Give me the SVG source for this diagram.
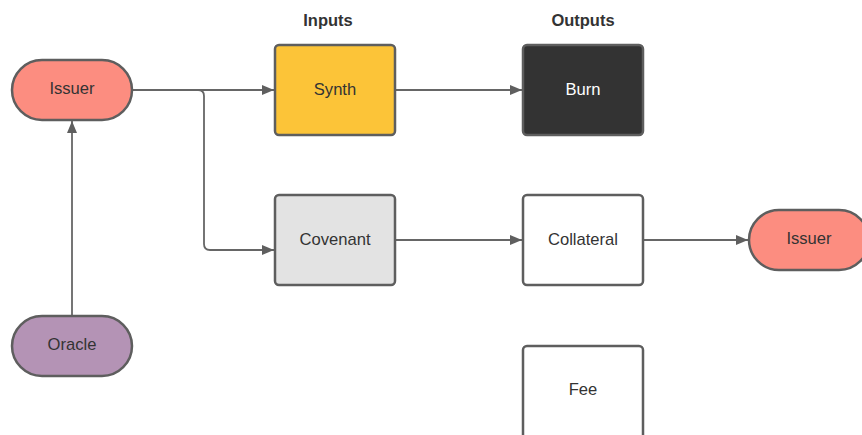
<svg xmlns="http://www.w3.org/2000/svg" width="862" height="435" viewBox="0 0 862 435">
  <defs>
    <marker id="arrow" viewBox="0 0 12 10" refX="12" refY="5" markerWidth="12" markerHeight="10" markerUnits="userSpaceOnUse" orient="auto">
      <path d="M0,0 L12,5 L0,10 z" fill="#5f5f5f"/>
    </marker>
  </defs>
  <style>
    .node { stroke: #5e5e5e; stroke-width: 2.5; }
    .label { font-family: "Liberation Sans", Arial, sans-serif; font-size: 16.6px; fill: #333333; text-anchor: middle; dominant-baseline: central; }
    .head { font-family: "Liberation Sans", Arial, sans-serif; font-size: 16.5px; font-weight: bold; fill: #333333; text-anchor: middle; dominant-baseline: central; }
    .edge { fill: none; stroke: #666666; stroke-width: 1.8; }
  </style>
  <rect width="862" height="435" fill="#ffffff"/>

  <text class="head" x="328" y="20">Inputs</text>
  <text class="head" x="583" y="20">Outputs</text>

  <g id="connectors">
    <path class="edge" d="M132,90 H274" marker-end="url(#arrow)"/>
    <path class="edge" d="M198,90 Q204,90 204,96 V244 Q204,250 210,250 H274" marker-end="url(#arrow)"/>
    <path class="edge" d="M72,316 V121" marker-end="url(#arrow)"/>
    <path class="edge" d="M396,90 H522" marker-end="url(#arrow)"/>
    <path class="edge" d="M396,240 H522" marker-end="url(#arrow)"/>
    <path class="edge" d="M644,240 H748" marker-end="url(#arrow)"/>
  </g>

  <g id="issuer-left">
    <rect class="node" x="12" y="60" width="120" height="60" rx="30" fill="#fc8d80"/>
    <text class="label" x="72" y="88.5">Issuer</text>
  </g>
  <g id="oracle">
    <rect class="node" x="12" y="316" width="120" height="60" rx="30" fill="#b493b5"/>
    <text class="label" x="72" y="344.5">Oracle</text>
  </g>
  <g id="synth">
    <rect class="node" x="275" y="45" width="120" height="90" rx="4" fill="#fcc438"/>
    <text class="label" x="335" y="89.5">Synth</text>
  </g>
  <g id="covenant">
    <rect class="node" x="275" y="195" width="120" height="90" rx="4" fill="#e3e3e3"/>
    <text class="label" x="335" y="239.5">Covenant</text>
  </g>
  <g id="burn">
    <rect class="node" x="523" y="45" width="120" height="90" rx="4" fill="#333333"/>
    <text class="label" x="583" y="89.5" style="fill:#ffffff">Burn</text>
  </g>
  <g id="collateral">
    <rect class="node" x="523" y="195" width="120" height="90" rx="4" fill="#ffffff"/>
    <text class="label" x="583" y="239.5">Collateral</text>
  </g>
  <g id="fee">
    <rect class="node" x="523" y="346" width="120" height="95" rx="4" fill="#ffffff"/>
    <text class="label" x="583" y="389.5">Fee</text>
  </g>
  <g id="issuer-right">
    <rect class="node" x="749" y="210" width="120" height="60" rx="30" fill="#fc8d80"/>
    <text class="label" x="809" y="238.5">Issuer</text>
  </g>
</svg>
